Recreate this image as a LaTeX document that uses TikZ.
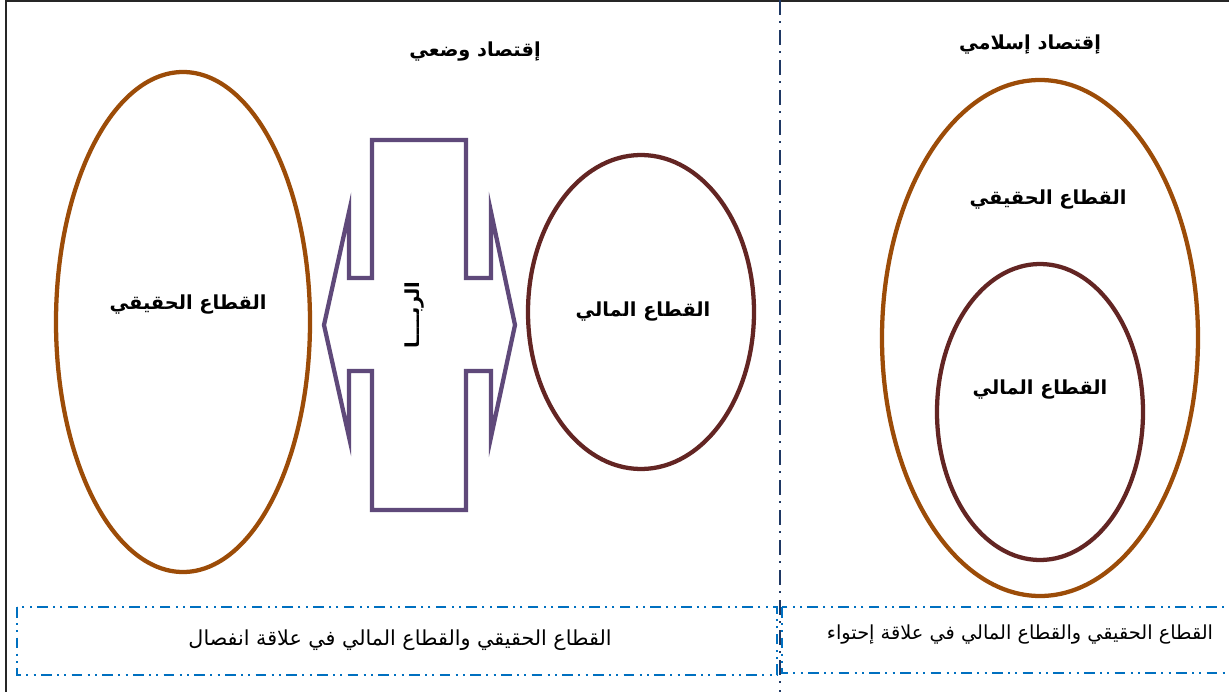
\documentclass[tikz,border=0pt]{standalone}
\usepackage{fontspec}
\newfontfamily\arabicfont[Script=Arabic]{DejaVu Sans}
\TeXXeTstate=1
\usetikzlibrary{shapes.geometric}

\definecolor{realbrown}{HTML}{9C4C08}
\definecolor{finmaroon}{HTML}{632523}
\definecolor{ribapurple}{HTML}{5F497A}
\definecolor{boxblue}{HTML}{0070C0}
\definecolor{splitblue}{HTML}{1F3864}

\newcommand{\ar}[1]{{\arabicfont\beginR #1\endR}}

\tikzset{
    sector/.style={ellipse, draw, line width=3.2pt, inner sep=0pt},
    title/.style={font=\bfseries\fontsize{14.5}{17}\selectfont},
    label/.style={font=\bfseries\fontsize{14.5}{17}\selectfont},
    relbox/.style={draw=boxblue, line width=2pt,
        dash pattern=on 8pt off 4pt on 1.5pt off 4pt on 1.5pt off 4pt},
    relation/.style={font=\fontsize{14.5}{17}\selectfont}
}

\begin{document}
\begin{tikzpicture}[x=0.75pt, y=-0.75pt]
        \useasboundingbox (0,0) rectangle (1229,692);
        \fill[white] (0,0) rectangle (1229,692);

        % outer frame
        \draw[line width=2pt, black!85] (6,700) -- (6,1) -- (1240,1);

        % divider
        \draw[splitblue, line width=1.5pt, dash pattern=on 11pt off 5pt on 1.5pt off 5pt]
            (780,0) -- (780,692);

        % titles
        \node[title] (wad) at (475,52) {\ar{إقتصاد وضعي}};
        \node[title] (islami) at (1030,45) {\ar{إقتصاد إسلامي}};

        % positive economy
        \node[sector, draw=realbrown, minimum width=190.5pt, minimum height=375pt] (realL) at (183,322) {};
        \node[label] (realLtext) at (188,305) {\ar{القطاع الحقيقي}};
        \node[sector, draw=finmaroon, minimum width=169.5pt, minimum height=235.5pt] (finL) at (641,312) {};
        \node[label] (finLtext) at (643,312) {\ar{القطاع المالي}};

        \draw[ribapurple, line width=3.2pt, line join=miter]
            (372,140) -- (466,140) -- (466,278) -- (491,278) -- (491,212) -- (515,325)
            -- (491,437) -- (491,371) -- (466,371) -- (466,510) -- (372,510) -- (372,371)
            -- (349,371) -- (349,437) -- (324,325) -- (349,212) -- (349,278) -- (372,278) -- cycle;
        \node[label, rotate=90] (riba) at (415,315) {\ar{الربــــا}};

        % islamic economy
        \node[sector, draw=realbrown, minimum width=237pt, minimum height=387pt] (realR) at (1040,338) {};
        \node[label] (realRtext) at (1048,200) {\ar{القطاع الحقيقي}};
        \node[sector, draw=finmaroon, minimum width=154.5pt, minimum height=222pt] (finR) at (1040,412) {};
        \node[label] (finRtext) at (1040,390) {\ar{القطاع المالي}};

        % relations
        \draw[relbox] (17,607) rectangle (777,675);
        \node[relation, font=\fontsize{15.5}{18}\selectfont] (sep) at (400,640) {\ar{القطاع الحقيقي والقطاع المالي في علاقة انفصال}};
        \draw[relbox] (782,607) rectangle (1240,673);
        \node[relation] (cont) at (1020,635) {\ar{القطاع الحقيقي والقطاع المالي في علاقة إحتواء}};
    \end{tikzpicture}
\end{document}
